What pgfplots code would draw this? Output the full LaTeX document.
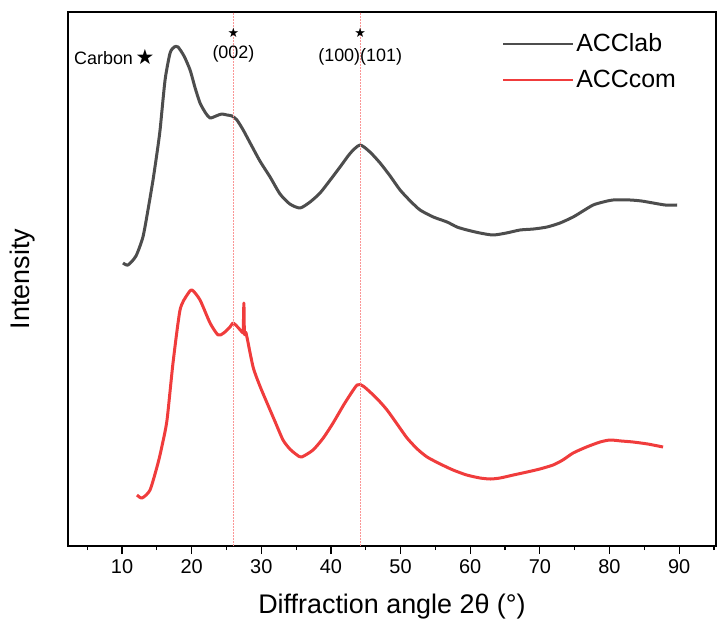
\documentclass[border=0pt]{standalone}
\usepackage{pgfplots}
\pgfplotsset{compat=1.18}
\usepackage{fontspec}
\setmainfont{Liberation Sans}
\newfontfamily\symfont{DejaVu Sans}
\definecolor{labgray}{RGB}{77,77,77}
\definecolor{comred}{RGB}{240,60,60}
\definecolor{vred}{RGB}{250,150,150}
\begin{document}
\begin{tikzpicture}
\begin{axis}[
  scale only axis,
  width=648bp, height=534bp,
  xmin=2.24, xmax=95.3,
  ymin=0, ymax=534,
  axis line style={line width=1.5bp},
  xtick={10,20,...,90},
  minor xtick={5,15,...,95},
  xtick pos=bottom,
  tick align=outside,
  major tick length=8bp,
  minor tick length=4bp,
  every tick/.style={black, line width=1.2bp},
  ytick=\empty,
  /pgf/number format/assume math mode=true,
  tick label style={font=\fontsize{20}{24}\selectfont},
  xticklabel style={yshift=-2bp},
  xlabel={Diffraction angle 2θ (°)},
  ylabel={Intensity},
  label style={font=\fontsize{27}{32}\selectfont},
  xlabel style={at={(axis description cs:0.5,-0.1142)}, anchor=center},
  ylabel style={at={(axis description cs:-0.0694,0.5)}, anchor=center},
  legend style={draw=none, fill=none, at={(rel axis cs:0.67,0.963)}, anchor=north west,
    font=\fontsize{25}{30}\selectfont, row sep=13bp, inner sep=0pt},
  legend cell align=left,
  legend image code/.code={\draw[#1,line width=2bp] (0bp,0bp) -- (70bp,0bp);},
  clip=false,
]
\addplot[labgray, line width=3bp, line join=round, smooth, tension=0.4] coordinates {
(10.14,283) (10.86,281) (12.0,290) (13.0,309) (13.7,335) (14.45,366) (15.0,392) (15.46,416)
(16.18,466) (16.9,493) (17.5,499) (18.04,499) (18.9,490) (19.77,476) (20.5,458) (21.2,443)
(22.0,433) (22.64,428) (23.5,430) (24.3,432) (25.08,431) (25.8,430) (26.5,426) (27.4,416)
(28.4,403) (29.8,385) (31.26,369) (32.69,352) (34.1,342) (35.57,338) (37.0,344) (38.44,353)
(39.9,366) (41.31,379) (42.8,393) (44.18,401) (45.6,394) (47.06,383) (48.5,370) (49.93,356)
(51.4,345) (52.80,336) (54.7,329) (56.68,324) (58.1,319) (59.55,316) (61.4,313) (63.29,311)
(65.2,313) (67.16,316) (69.1,317) (71.04,319) (72.9,323) (74.78,329) (76.2,335) (77.65,341)
(79.1,344) (80.52,346) (82.96,346) (84.6,345) (86.27,343) (88.0,341) (89.71,341)
};
\addlegendentry{ACClab}
\addplot[comred, line width=3bp, line join=round, smooth, tension=0.4] coordinates {
(12.15,51) (12.87,48) (14.02,56) (15.17,83) (15.8,102) (16.46,126) (17.32,183) (18.33,236)
(19.34,251) (20.05,256) (21.2,246) (22.64,223) (23.79,211) (24.6,213) (25.51,219) (25.94,223)
(26.6,219) (27.24,214) (27.40,215) (27.50,243) (27.58,212) (27.81,213) (28.82,179) (29.8,160)
(30.83,143) (32.0,124) (33.12,106) (34.1,97) (35.13,91) (35.8,89) (37.43,96) (38.9,108) (40.31,123)
(42.0,143) (43.75,161) (44.6,160) (45.62,154) (46.8,146) (48.06,136) (49.5,122) (50.93,108)
(52.4,97) (53.81,89) (55.7,82) (57.54,76) (59.5,71) (61.42,68) (62.9,67) (64.29,68) (66.2,71)
(68.17,74) (70.0,77) (71.90,81) (73.3,86) (74.78,93) (76.7,99) (78.65,104) (80.09,106)
(81.7,105) (83.39,104) (85.5,102) (87.70,99)
};
\addlegendentry{ACCcom}
\draw[vred, line width=0.6bp, dash pattern=on 2bp off 1bp] (axis cs:26,0) -- (axis cs:26,534);
\draw[vred, line width=0.6bp, dash pattern=on 2bp off 1bp] (axis cs:44.2,0) -- (axis cs:44.2,534);
\node[font=\symfont\fontsize{13}{15}\selectfont, inner sep=0] at (axis cs:26,513) {★};
\node[font=\symfont\fontsize{13}{15}\selectfont, inner sep=0] at (axis cs:44.2,513) {★};
\node[font=\fontsize{18}{21}\selectfont, inner sep=0] at (axis cs:26,492) {(002)};
\node[font=\fontsize{18}{21}\selectfont, inner sep=0] at (axis cs:44.2,489) {(100)(101)};
\node[font=\fontsize{18}{21}\selectfont, inner sep=0, anchor=east] at (axis cs:11.6,488) {Carbon};
\node[font=\symfont\fontsize{21}{24}\selectfont, inner sep=0] at (axis cs:13.3,489) {★};
\end{axis}
\path (current axis.south west) ++(-68bp,-81bp) coordinate (bbA);
\path (current axis.north east) ++(4bp,12bp) coordinate (bbB);
\path[use as bounding box] (bbA) rectangle (bbB);
\end{tikzpicture}
\end{document}
